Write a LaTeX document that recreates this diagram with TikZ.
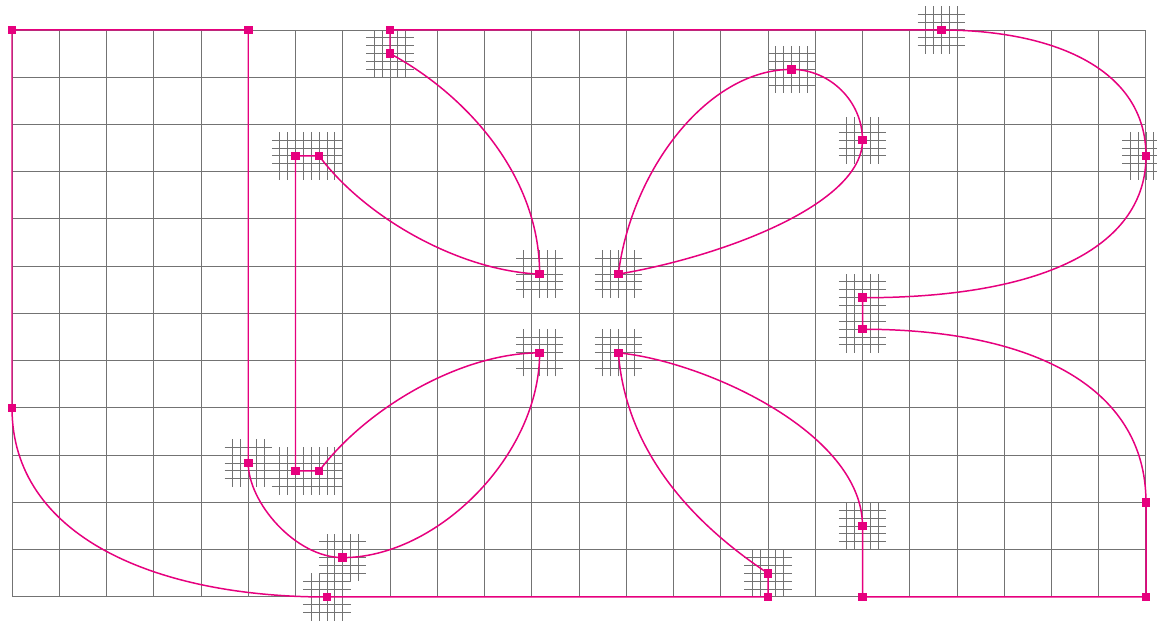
\documentclass[tikz,border=0pt]{standalone}
\definecolor{pinkline}{HTML}{E6007E}
\tikzset{
  gridline/.style={draw=black!55, line width=0.6pt},
  hatchline/.style={draw=black!55, line width=0.6pt},
  pathline/.style={draw=pinkline, line width=0.9pt},
  sq/.style={fill=pinkline, minimum size=0.18cm, inner sep=0pt, outer sep=0pt, draw=none, rectangle}
}
\begin{document}
\begin{tikzpicture}
\useasboundingbox (-0.254,-0.487) rectangle (24.233,12.635);
\draw[gridline] (0,0) grid (24,12);
% points
\coordinate (A1) at (0,12);
\coordinate (A2) at (5,12);
\coordinate (A3) at (8,12);
\coordinate (A4) at (8,11.5);
\coordinate (A5) at (19+4/6,12);
\coordinate (A6) at (16.5,11+1/6);
\coordinate (A7) at (18,9+4/6);
\coordinate (A8) at (24,9+2/6);
\coordinate (A9) at (6,9+2/6);
\coordinate (A10) at (6.5,9+2/6);
\coordinate (A11) at (11+1/6,6+5/6);
\coordinate (A12) at (12+5/6,6+5/6);
\coordinate (A13) at (11+1/6,5+1/6);
\coordinate (A14) at (12+5/6,5+1/6);
\coordinate (A15) at (18,6+2/6);
\coordinate (A16) at (18,5+4/6);
\coordinate (A17) at (0,4);
\coordinate (A18) at (5,2+5/6);
\coordinate (A19) at (6,2+4/6);
\coordinate (A20) at (6.5,2+4/6);
\coordinate (A21) at (7,5/6);
\coordinate (A22) at (6+4/6,0);
\coordinate (A23) at (16,0.5);
\coordinate (A24) at (16,0);
\coordinate (A25) at (18,1.5);
\coordinate (A26) at (18,0);
\coordinate (A27) at (24,2);
\coordinate (A28) at (24,0);
% hatches
\foreach \p in {A4,A5,A6,A7,A8,A9,A10,A11,A12,A13,A14,A15,A16,A18,A19,A20,A21,A22,A23,A25}{
  \foreach \k in {-2,...,2}{
    \draw[hatchline] (\p) ++(\k/6,-0.5) -- ++(0,1);
    \draw[hatchline] (\p) ++(-0.5,\k/6) -- ++(1,0);
  }
}
% pink paths
\draw[pathline] (A18) -- (A2) -- (A1) -- (A17)
  .. controls (0,1.3) and (3,0) .. (A22) -- (A24) -- (A23)
  .. controls (14.5,1.5) and (13.0,3.0) .. (A14)
  .. controls (14.6,5.0) and (18,3.5) .. (A25) -- (A26) -- (A28) -- (A27)
  .. controls (24,4.5) and (21.5,5+4/6) .. (A16) -- (A15)
  .. controls (22,6+2/6) and (24,7.5) .. (A8)
  .. controls (24,11.2) and (22,12) .. (A5) -- (A3) -- (A4)
  .. controls (9.5,10.7) and (11+1/6,9.0) .. (A11)
  .. controls (9.5,6.9) and (7.5,8.0) .. (A10) -- (A9) -- (A19) -- (A20)
  .. controls (7.5,4.0) and (9.5,5+1/6) .. (A13)
  .. controls (11+1/6,3.0) and (9,5/6) .. (A21)
  .. controls (6,5/6) and (5,2.0) .. (A18);
\draw[pathline] (A12) .. controls (13.1,9.0) and (14.7,11+1/6) .. (A6)
  .. controls (17.3,11+1/6) and (18,10.5) .. (A7)
  .. controls (18,8.3) and (15,7.2) .. (A12);
% squares
\foreach \p in {A1,A2,A3,A4,A5,A6,A7,A8,A9,A10,A11,A12,A13,A14,A15,A16,A17,A18,A19,A20,A21,A22,A23,A24,A25,A26,A27,A28}{
  \node[sq] (s\p) at (\p) {};
}
\end{tikzpicture}
\end{document}
